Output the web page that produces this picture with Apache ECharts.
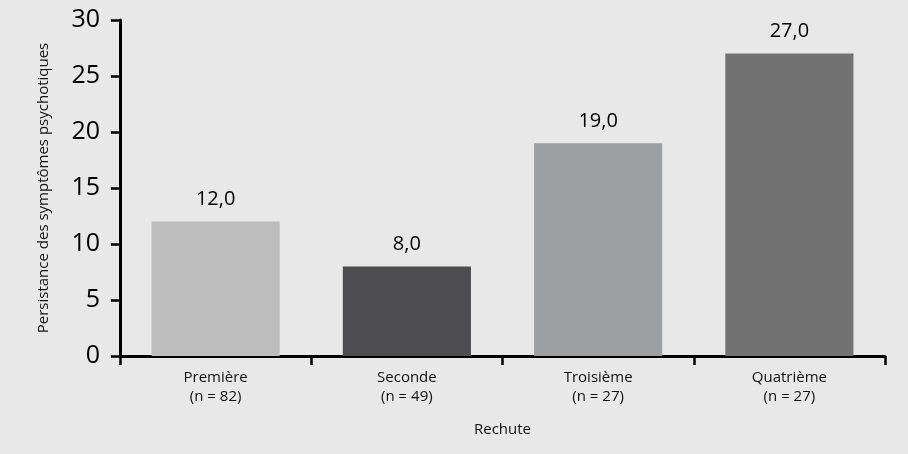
<!DOCTYPE html>
<html>
<head>
<meta charset="utf-8">
<script src="https://cdn.jsdelivr.net/npm/echarts@6/dist/echarts.min.js"></script>
<style>
  html, body { margin: 0; padding: 0; background: #e8e8e8; }
  #chart { width: 908px; height: 454px; }
</style>
</head>
<body>
<div id="chart"></div>
<script>
// Relapse categories with sample sizes
const categories = ['Première', 'Seconde', 'Troisième', 'Quatrième'];
const sampleSizes = [82, 49, 27, 27];
// Persistence of psychotic symptoms per relapse
const values = [12.0, 8.0, 19.0, 27.0];
const barColors = ['#bdbdbe', '#4d4d4f', '#9d9fa0', '#727273'];
const yTicks = { min: 0, max: 30, interval: 5 };

const FONT = '"Open Sans", "DejaVu Sans", sans-serif';

const chart = echarts.init(document.getElementById('chart'), null, { renderer: 'canvas' });

chart.setOption({
  backgroundColor: '#e8e8e8',
  animation: false,
  grid: { left: 120, right: 23, top: 20, bottom: 98, containLabel: false },
  xAxis: {
    type: 'category',
    data: categories.map((c, i) => c + '\n(n = ' + sampleSizes[i] + ')'),
    name: 'Rechute',
    nameLocation: 'middle',
    nameGap: 66,
    nameTextStyle: { color: '#111', fontSize: 15, fontFamily: FONT },
    axisLine: { lineStyle: { color: '#000', width: 3 } },
    axisTick: { show: true, length: 9, lineStyle: { color: '#000', width: 2.5 }, alignWithLabel: false },
    axisLabel: { color: '#111', fontSize: 15, fontFamily: FONT, lineHeight: 19, margin: 12 }
  },
  yAxis: {
    type: 'value',
    min: yTicks.min,
    max: yTicks.max,
    interval: yTicks.interval,
    name: 'Persistance des symptômes psychotiques',
    nameLocation: 'middle',
    nameGap: 69,
    nameRotate: 90,
    nameTextStyle: { color: '#111', fontSize: 15, fontFamily: FONT },
    axisLine: { show: true, lineStyle: { color: '#000', width: 3 } },
    axisTick: { show: true, length: 9, lineStyle: { color: '#000', width: 2.5 } },
    axisLabel: { color: '#000', fontSize: 25, fontFamily: FONT, margin: 20 },
    splitLine: { show: false }
  },
  series: [{
    type: 'bar',
    data: values.map((v, i) => ({ value: v, itemStyle: { color: barColors[i] } })),
    barWidth: '67%',
    label: {
      show: true,
      position: 'top',
      distance: 12,
      color: '#000',
      fontSize: 20,
      fontFamily: FONT,
      formatter: p => p.value.toFixed(1).replace('.', ',')
    }
  }]
});
</script>
</body>
</html>
